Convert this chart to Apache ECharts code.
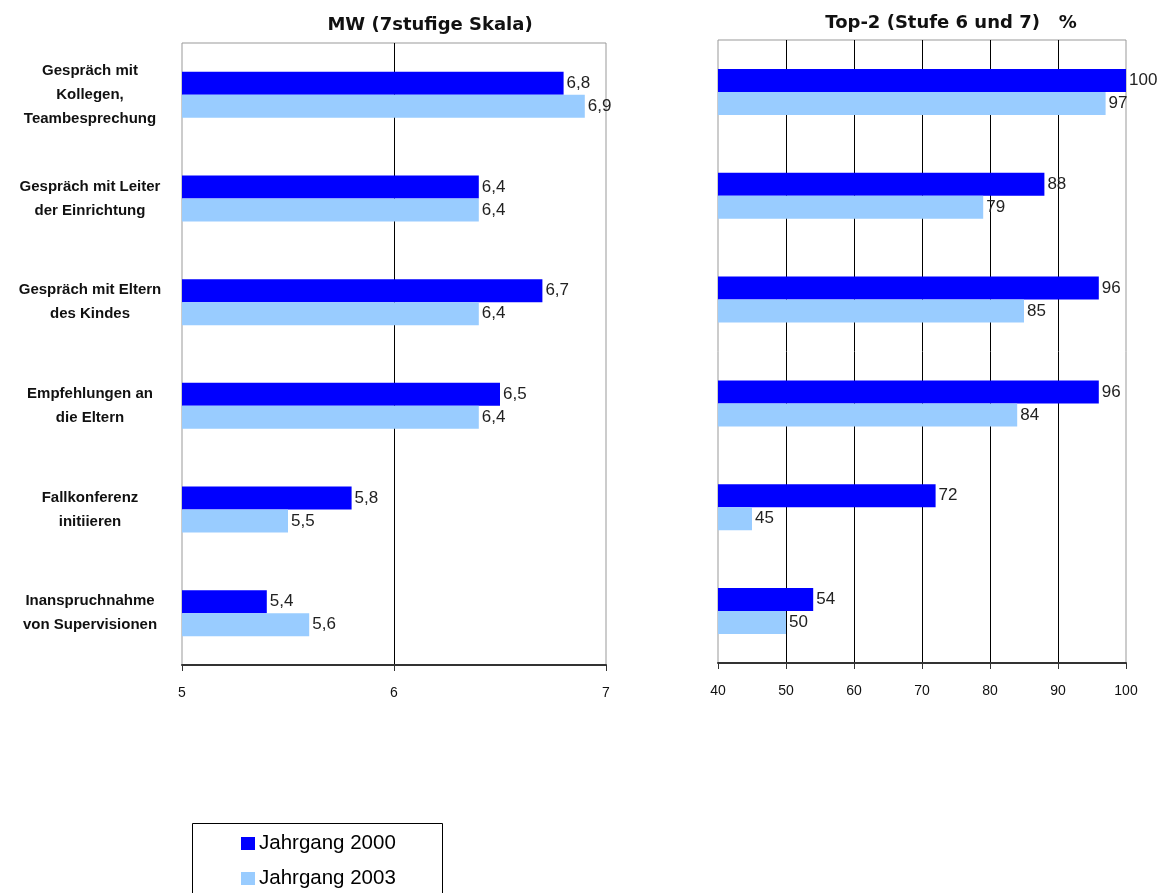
<!DOCTYPE html>
<html>
<head>
<meta charset="utf-8">
<script src="https://cdn.jsdelivr.net/npm/echarts@6/dist/echarts.min.js"></script>
<style>
  html, body { margin: 0; padding: 0; background: #fff; }
  #chart { width: 1171px; height: 893px; }
</style>
</head>
<body>
<div id="chart"></div>
<script>
// Kategorien (Zeilen von oben nach unten)
const categories = [
  'Gespräch mit\nKollegen,\nTeambesprechung',
  'Gespräch mit Leiter\nder Einrichtung',
  'Gespräch mit Eltern\ndes Kindes',
  'Empfehlungen an\ndie Eltern',
  'Fallkonferenz\ninitiieren',
  'Inanspruchnahme\nvon Supervisionen'
];
const seriesNames = ['Jahrgang 2000', 'Jahrgang 2003'];

// Mittelwerte (7stufige Skala)
const mw2000 = [6.8, 6.4, 6.7, 6.5, 5.8, 5.4];
const mw2003 = [6.9, 6.4, 6.4, 6.4, 5.5, 5.6];

// Top-2 Anteile in %
const top2000 = [100, 88, 96, 96, 72, 54];
const top2003 = [97, 79, 85, 84, 45, 50];

const titles = ['MW (7stufige Skala)', 'Top-2 (Stufe 6 und 7)   %'];

const DARK = '#0000FF';
const LIGHT = '#99CCFF';
const SANS = '"Liberation Sans", Arial, sans-serif';

const chart = echarts.init(document.getElementById('chart'), null, { renderer: 'canvas' });

function valueAxis(gridIndex, min, max, interval) {
  return {
    type: 'value', gridIndex, min, max, interval,
    axisLine: { show: true, lineStyle: { color: '#333', width: 2 } },
    axisTick: { show: true, length: 6, lineStyle: { color: '#333' } },
    axisLabel: { margin: 21, fontFamily: SANS, fontSize: 14, color: '#111' },
    splitLine: { show: true, showMinLine: false, showMaxLine: false, lineStyle: { color: '#000', width: 1 } }
  };
}

function catAxis(gridIndex, showLabels) {
  return {
    type: 'category', gridIndex, data: categories, inverse: true,
    axisLine: { show: false }, axisTick: { show: false },
    axisLabel: {
      show: showLabels, align: 'center', margin: 92,
      fontFamily: SANS, fontWeight: 'bold', fontSize: 15, lineHeight: 24, color: '#111'
    }
  };
}

function barSeries(name, data, color, axisIdx, fmt) {
  return {
    name, type: 'bar', data, xAxisIndex: axisIdx, yAxisIndex: axisIdx,
    barWidth: 23, barGap: '0%', barCategoryGap: '55%',
    itemStyle: { color },
    label: {
      show: true, position: 'right', distance: 3,
      fontFamily: SANS, fontSize: 17, color: '#222',
      formatter: p => fmt(p.value)
    }
  };
}

const fmtMW = v => v.toFixed(1).replace('.', ',');
const fmtPct = v => String(v);

function legendEntry(name, top) {
  return {
    data: [name], left: 241, top,
    itemWidth: 14, itemHeight: 13, itemGap: 0, icon: 'rect',
    padding: 0, selectedMode: false,
    textStyle: { fontFamily: SANS, fontSize: 20.5, lineHeight: 20, color: '#000', padding: [0, 0, 0, -1] }
  };
}

chart.setOption({
  animation: false,
  backgroundColor: '#fff',
  title: [
    { text: titles[0], left: 425, top: 11, textAlign: 'center',
      textStyle: { fontFamily: '"DejaVu Sans", sans-serif', fontWeight: 'bold', fontSize: 18, color: '#111' } },
    { text: titles[1], left: 946, top: 9, textAlign: 'center',
      textStyle: { fontFamily: '"DejaVu Sans", sans-serif', fontWeight: 'bold', fontSize: 18, color: '#111' } }
  ],
  legend: [legendEntry(seriesNames[0], 833), legendEntry(seriesNames[1], 868)],
  graphic: [{
    type: 'rect', silent: true,
    shape: { x: 192.5, y: 823.5, width: 250, height: 90 },
    style: { fill: 'none', stroke: '#000', lineWidth: 1 }
  }],
  grid: [
    { left: 182, right: 565, top: 43, bottom: 228, show: true, borderColor: '#999', borderWidth: 1 },
    { left: 718, right: 45, top: 40, bottom: 230, show: true, borderColor: '#999', borderWidth: 1 }
  ],
  xAxis: [valueAxis(0, 5, 7, 1), valueAxis(1, 40, 100, 10)],
  yAxis: [catAxis(0, true), catAxis(1, false)],
  series: [
    barSeries(seriesNames[0], mw2000, DARK, 0, fmtMW),
    barSeries(seriesNames[1], mw2003, LIGHT, 0, fmtMW),
    barSeries(seriesNames[0], top2000, DARK, 1, fmtPct),
    barSeries(seriesNames[1], top2003, LIGHT, 1, fmtPct)
  ]
});
</script>
</body>
</html>
